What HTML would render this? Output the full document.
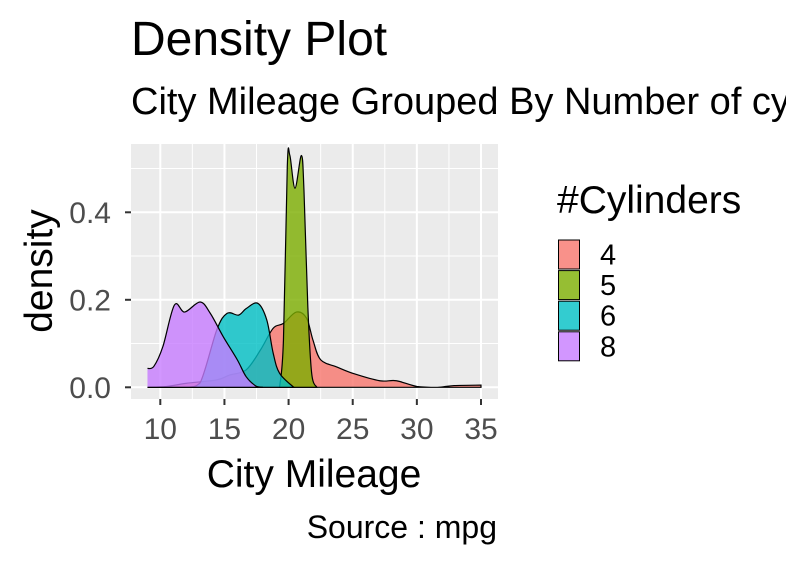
<!DOCTYPE html>
<html><head><meta charset="utf-8"><style>
body{margin:0;background:#fff}
svg text{font-family:"Liberation Sans",sans-serif}
</style></head><body>
<svg id="chart" width="786" height="566" xmlns="http://www.w3.org/2000/svg">
<text x="131" y="55" font-size="48" fill="#000">Density Plot</text>
<text x="131" y="114" font-size="38" fill="#000">City Mileage Grouped By Number of cylinders</text>
<rect x="131" y="144" width="367" height="255" fill="#EBEBEB"/>
<g id="grid"></g>
<g id="series"></g>
<g id="axes"></g>
<text transform="translate(52,271) rotate(-90)" text-anchor="middle" font-size="39">density</text>
<text x="314" y="487" text-anchor="middle" font-size="39">City Mileage</text>
<text x="497" y="538" text-anchor="end" font-size="32">Source : mpg</text>
<text x="557" y="213" font-size="39">#Cylinders</text>
<g id="legend"></g>
</svg>
<script>
const groups = ["4","5","6","8"];
const colors = ["#F8766D","#7CAE00","#00BFC4","#C77CFF"];
const xTicks = [10,15,20,25,30,35];
const yTicks = [0,0.2,0.4];
const yTickLabels = ["0.0","0.2","0.4"];
const cyl4X = [9,10.5,12,14.4,15.4,16.7,17.8,18.8,19.6,20.6,21.4,21.9,22.5,23.8,25.1,27.1,28.4,30,31.6,32.9,35];
const cyl4Y = [0,0.002,0.009,0.017,0.028,0.04,0.085,0.135,0.146,0.172,0.158,0.108,0.063,0.046,0.031,0.015,0.015,0.002,0,0.004,0.005];
const cyl5X = [19.3,19.6,19.9,20.1,20.5,21.0,21.2,21.5,21.8,22.2];
const cyl5Y = [0,0.108,0.505,0.53,0.455,0.53,0.45,0.185,0.032,0];
const cyl6X = [9,12,13.1,14.4,15.2,16.1,16.7,17.6,18.3,18.8,19.3,20.4];
const cyl6Y = [0,0,0.01,0.131,0.169,0.165,0.18,0.192,0.154,0.078,0.032,0];
const cyl8X = [9,9.5,10.2,11.1,11.9,13.1,13.9,14.9,16,16.7,17.5,18];
const cyl8Y = [0.043,0.048,0.093,0.188,0.172,0.195,0.169,0.116,0.063,0.024,0.002,0];
const NS='http://www.w3.org/2000/svg';
const sx = v => 160.3 + (v-10)*12.828;
const sy = v => 387.3 - v*437.5;
function mk(tag, attrs, parent){const e=document.createElementNS(NS,tag);for(const k in attrs)e.setAttribute(k,attrs[k]);parent.appendChild(e);return e;}
const grid=document.getElementById('grid');
[7.5,12.5,17.5,22.5,27.5,32.5].forEach(v=>{if(sx(v)>131){const l=mk('line',{x1:sx(v),x2:sx(v),y1:144,y2:399,stroke:'#fff','stroke-width':1},grid);}});
[0.1,0.3,0.5].forEach(v=>{const l=mk('line',{x1:131,x2:498,y1:sy(v),y2:sy(v),stroke:'#fff','stroke-width':1},grid);});
xTicks.forEach(v=>{const l=mk('line',{x1:sx(v),x2:sx(v),y1:144,y2:399,stroke:'#fff','stroke-width':2},grid);});
yTicks.forEach(v=>{const l=mk('line',{x1:131,x2:498,y1:sy(v),y2:sy(v),stroke:'#fff','stroke-width':2},grid);});
function smooth(pts){let d=`M${pts[0][0]},${pts[0][1]}`;for(let i=0;i<pts.length-1;i++){const p0=pts[Math.max(0,i-1)],p1=pts[i],p2=pts[i+1],p3=pts[Math.min(pts.length-1,i+2)];const t=6;let c1y=p1[1]+(p2[1]-p0[1])/t,c2y=p2[1]-(p3[1]-p1[1])/t;const base=sy(0);c1y=Math.min(c1y,base);c2y=Math.min(c2y,base);d+=` C${p1[0]+(p2[0]-p0[0])/t},${c1y} ${p2[0]-(p3[0]-p1[0])/t},${c2y} ${p2[0]},${p2[1]}`;}return d;}
const series=document.getElementById('series');
const data=[[cyl4X,cyl4Y],[cyl5X,cyl5Y],[cyl6X,cyl6Y],[cyl8X,cyl8Y]];
data.forEach((s,i)=>{const pts=s[0].map((x,j)=>[sx(x),sy(s[1][j])]);const top=smooth(pts);
const a=mk('path',{d:top+` L${pts[pts.length-1][0]},${sy(0)} L${pts[0][0]},${sy(0)} Z`,fill:colors[i],'fill-opacity':0.8,stroke:'none'},series);

const l=mk('path',{d:top+` L${pts[pts.length-1][0]},${sy(0)} L${pts[0][0]},${sy(0)}`,fill:'none',stroke:'#000','stroke-width':1.2},series);
});
const axes=document.getElementById('axes');
xTicks.forEach(v=>{const t=mk('line',{x1:sx(v),x2:sx(v),y1:399,y2:405,stroke:'#333','stroke-width':2},axes);
const tx=mk('text',{x:sx(v),y:439,'text-anchor':'middle','font-size':30,fill:'#4D4D4D'},axes);tx.textContent=v;});
yTicks.forEach((v,i)=>{const t=mk('line',{x1:125,x2:131,y1:sy(v),y2:sy(v),stroke:'#333','stroke-width':2},axes);
const tx=mk('text',{x:111,y:sy(v)+10.5,'text-anchor':'end','font-size':30,fill:'#4D4D4D'},axes);tx.textContent=yTickLabels[i];});
const legend=document.getElementById('legend');
groups.forEach((g,i)=>{const y=239.5+i*30.6;const bg=mk('rect',{x:558,y:y,width:22,height:30,fill:'#fff'},legend);
const r=mk('rect',{x:558.5,y:y+0.5,width:21,height:29,fill:colors[i],'fill-opacity':0.8,stroke:'#000','stroke-width':1},legend);
const t=mk('text',{x:600,y:y+25,'font-size':29},legend);t.textContent=g;});
</script>
</body></html>
